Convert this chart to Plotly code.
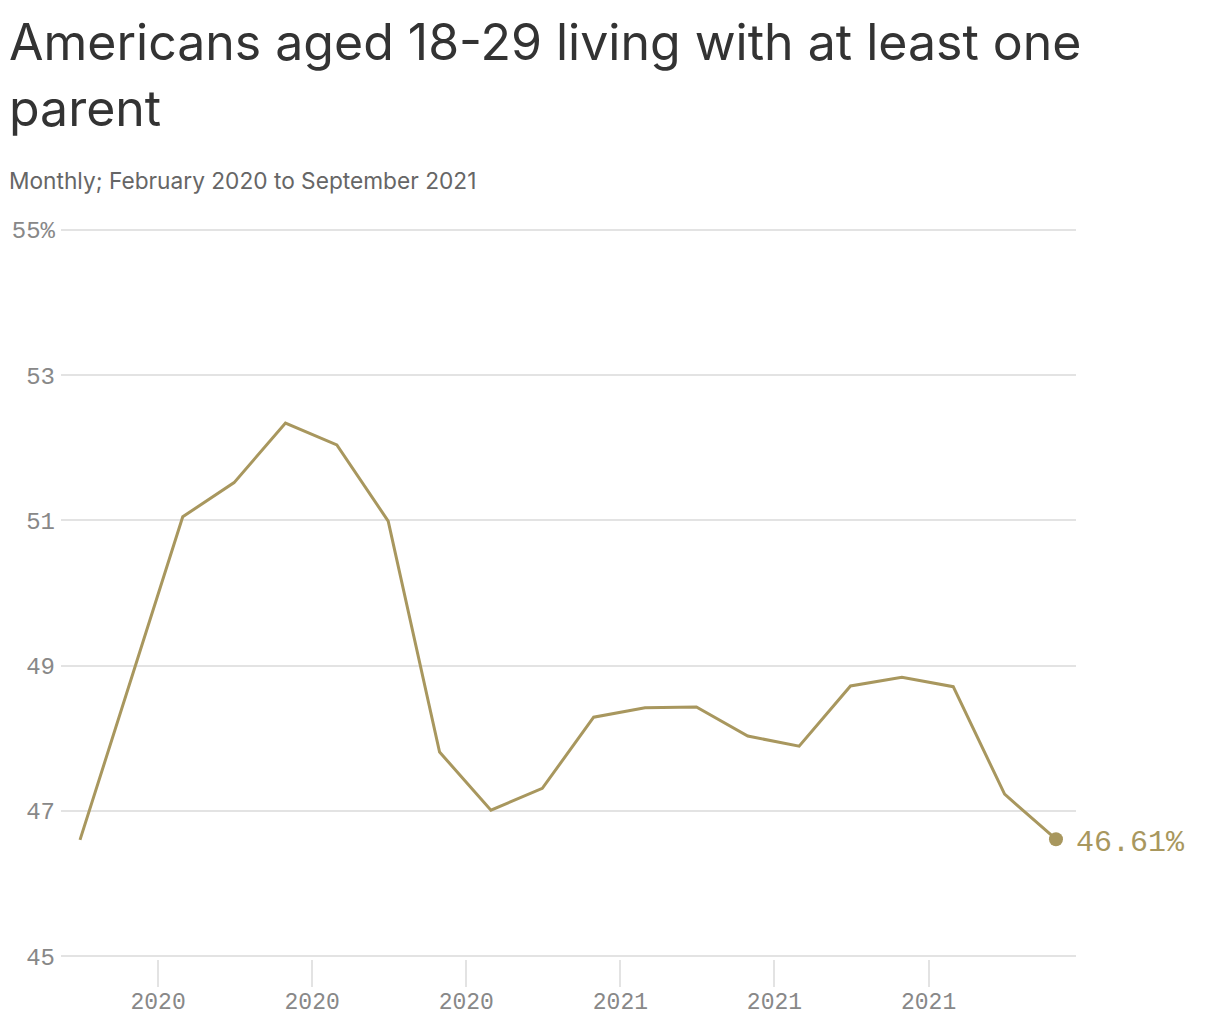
import plotly.graph_objects as go

# Monthly share of 18-29 year-olds living with a parent, Feb 2020 - Sep 2021
months = ["Feb 2020", "Mar 2020", "Apr 2020", "May 2020", "Jun 2020", "Jul 2020",
          "Aug 2020", "Sep 2020", "Oct 2020", "Nov 2020", "Dec 2020", "Jan 2021",
          "Feb 2021", "Mar 2021", "Apr 2021", "May 2021", "Jun 2021", "Jul 2021",
          "Aug 2021", "Sep 2021"]
share = [46.60, 48.82, 51.05, 51.52, 52.34, 52.04, 50.99, 47.81, 47.01, 47.31,
         48.29, 48.42, 48.43, 48.03, 47.89, 48.72, 48.84, 48.71, 47.23, 46.61]

x_tick_pos = [1.52, 4.52, 7.52, 10.52, 13.52, 16.52]
x_tick_text = ["2020", "2020", "2020", "2021", "2021", "2021"]
y_tick_vals = [45, 47, 49, 51, 53, 55]
y_tick_text = ["45", "47", "49", "51", "53", "55%"]

LINE = "#A8975E"
GRID = "#E3E3E3"
MONO = "Liberation Mono, DejaVu Sans Mono, monospace"
SANS = "Inter, Lato, Open Sans, sans-serif"

idx = list(range(len(share)))

fig = go.Figure()
fig.add_trace(go.Scatter(
    x=idx, y=share, mode="lines",
    line=dict(color=LINE, width=3),
    customdata=months,
    hovertemplate="%{customdata}: %{y:.2f}%<extra></extra>",
    cliponaxis=False,
))
fig.add_trace(go.Scatter(
    x=[idx[-1]], y=[share[-1]], mode="markers",
    marker=dict(color=LINE, size=14),
    hoverinfo="skip", cliponaxis=False,
))
# end label
fig.add_annotation(text=f"{share[-1]:.2f}%", x=idx[-1], y=share[-1],
                   xanchor="left", yanchor="middle", xshift=18, yshift=-4,
                   showarrow=False,
                   font=dict(family=MONO, size=30, color=LINE))

# title and subtitle (paper coords relative to plot area)
fig.add_annotation(text="Americans aged 18-29 living with at least one",
                   xref="paper", yref="paper", x=-0.0532, y=1.2523,
                   xanchor="left", yanchor="middle", showarrow=False,
                   font=dict(family=SANS, size=50, color="#333333"))
fig.add_annotation(text="parent",
                   xref="paper", yref="paper", x=-0.0532, y=1.1627,
                   xanchor="left", yanchor="middle", showarrow=False,
                   font=dict(family=SANS, size=50, color="#333333"))
fig.add_annotation(text="Monthly; February 2020 to September 2021",
                   xref="paper", yref="paper", x=-0.0532, y=1.063,
                   xanchor="left", yanchor="middle", showarrow=False,
                   font=dict(family=SANS, size=22.7, color="#666666"))

fig.update_layout(
    width=1212, height=1012,
    margin=dict(l=53, r=144, t=219, b=61),
    paper_bgcolor="white", plot_bgcolor="white",
    showlegend=False,
)
fig.update_xaxes(
    range=[-0.37, 19.39], showgrid=False, zeroline=False, showline=False,
    tickvals=x_tick_pos, ticktext=x_tick_text, automargin=False,
    ticks="outside", ticklen=27, tickwidth=1.5, tickcolor=GRID,
    ticklabelstandoff=-6,
    tickfont=dict(family=MONO, size=23, color="#888888"),
)
fig.update_yaxes(
    range=[44.96, 55.04], showgrid=True, gridcolor=GRID, gridwidth=1.5,
    zeroline=False, showline=False, automargin=False,
    tickvals=y_tick_vals, ticktext=y_tick_text, ticks="", ticklabelstandoff=5,
    tickfont=dict(family=MONO, size=24, color="#888888"),
)

fig.write_html("out.html")
